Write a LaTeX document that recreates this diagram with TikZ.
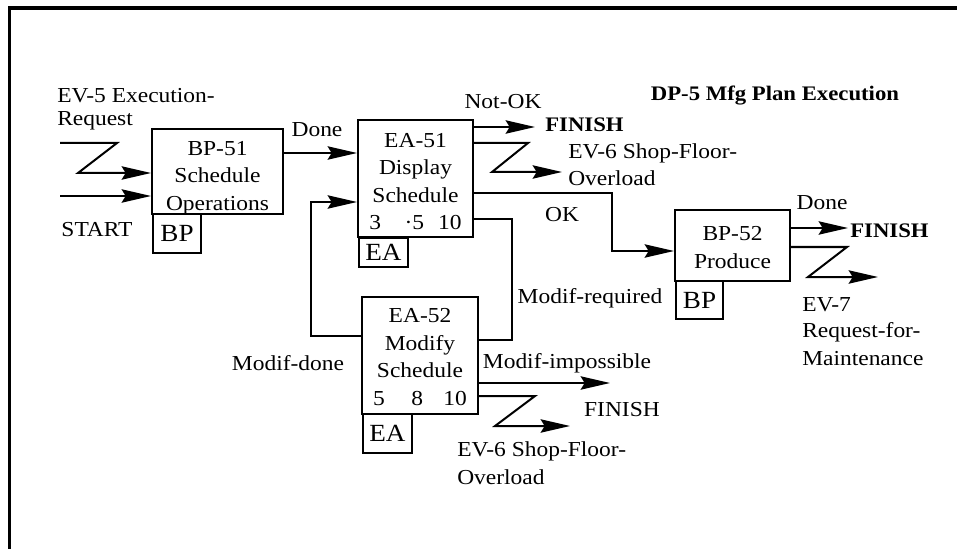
\documentclass[tikz,border=0pt]{standalone}
\usepackage{fontspec}
\setmainfont{Liberation Serif}[FakeStretch=1.1]
\usetikzlibrary{arrows.meta}
\tikzset{
  txt/.style={font=\fontsize{16}{20}\selectfont, inner sep=0pt},
  boldtxt/.style={font=\fontsize{15.5}{20}\selectfont\bfseries, inner sep=0pt},
  box/.style={draw, line width=1.5pt, inner sep=0pt},
  boxtext/.style={inner sep=0pt, align=center, font=\fontsize{16}{20.6}\selectfont},
  tagbox/.style={draw, line width=1.5pt, inner sep=0pt, anchor=north west, font=\fontsize{18.5}{20}\selectfont},
  conn/.style={line width=1.5pt},
  arr/.style={line width=1.5pt, -{Stealth[length=22pt,width=10pt,inset=3pt]}},
  frameline/.style={line width=2.4pt}
}
\begin{document}
\begin{tikzpicture}[x=0.75pt,y=-0.75pt]
\useasboundingbox (0,0) rectangle (957,549);
% frame
\draw[frameline] (9.5,549) -- (9.5,8) -- (957,8);

% boxes
\node[box, minimum width=98.25pt, minimum height=63.75pt,
  label={[boxtext, yshift=-5pt]center:BP-51\\Schedule\\Operations}] (bp51) at (217.5,171.5) {};
\node[tagbox, minimum width=36pt, minimum height=29.25pt] (bp51t) at (152,213) {BP};

\node[box, minimum width=86.25pt, minimum height=87.75pt,
  label={[boxtext, yshift=-2pt]center:EA-51\\Display\\Schedule\\3\hspace{1.1em}·5\hspace{0.65em}10}] (ea51) at (415.5,179) {};
\node[tagbox, minimum width=36.75pt, minimum height=21.75pt] (ea51t) at (358,237) {EA};

\node[box, minimum width=87pt, minimum height=87.75pt,
  label={[boxtext, yshift=-1.5pt]center:EA-52\\Modify\\Schedule\\5\hspace{1.25em}8\hspace{0.95em}10}] (ea52) at (420,355) {};
\node[tagbox, minimum width=36.75pt, minimum height=29.25pt] (ea52t) at (362,413) {EA};

\node[box, minimum width=86.25pt, minimum height=52.5pt,
  label={[boxtext, yshift=-1.5pt]center:BP-52\\Produce}] (bp52) at (732.5,245.5) {};
\node[tagbox, minimum width=35.25pt, minimum height=28.5pt] (bp52t) at (675,280) {BP};

% helper coordinates
\coordinate (st) at (60,196);
\coordinate (ev5) at (60,143);
\coordinate (z5) at (78,173);
\coordinate (yd1) at (0,153);
\coordinate (nf1) at (535,127);
\coordinate (y143) at (0,143);
\coordinate (ev6a) at (562,172);
\coordinate (y193) at (0,193);
\coordinate (y251) at (0,251);
\coordinate (y219) at (0,219);
\coordinate (y340) at (0,340);
\coordinate (y336) at (0,336);
\coordinate (y202) at (0,202);
\coordinate (y383) at (0,383);
\coordinate (nf2) at (610,383);
\coordinate (y396) at (0,396);
\coordinate (ev6b) at (570,426);
\coordinate (y228) at (0,228);
\coordinate (nf3) at (848,228);
\coordinate (y247) at (0,247);
\coordinate (ev7) at (878,277);

% connectors
\draw[arr] (st) -- (st -| bp51.west);
\draw[arr] (ev5) -- (117,143) -- (z5) -- (z5 -| bp51.west);
\draw[arr] (bp51.east |- yd1) -- (ea51.west |- yd1);
\draw[arr] (ea51.east |- nf1) -- (nf1);
\draw[arr] (ea51.east |- y143) -- (528,143) -- (492,172) -- (ev6a);
\draw[arr] (ea51.east |- y193) -- (612,193) -- (612,251) -- (bp52.west |- y251);
\draw[conn] (ea51.east |- y219) -- (512,219) -- (512,340) -- (ea52.east |- y340);
\draw[arr] (ea52.west |- y336) -- (311,336) -- (311,202) -- (ea51.west |- y202);
\draw[arr] (ea52.east |- y383) -- (nf2);
\draw[arr] (ea52.east |- y396) -- (535,396) -- (495,426) -- (ev6b);
\draw[arr] (bp52.east |- y228) -- (nf3);
\draw[arr] (bp52.east |- y247) -- (847,247) -- (808,277) -- (ev7);

% labels
\node[txt, anchor=west] (l1) at (57,96) {EV-5 Execution-};
\node[txt, anchor=west] (l2) at (57,121) {Request};
\node[txt] (l3) at (97,230) {START};
\node[txt] (l4) at (317,130) {Done};
\node[txt] (l5) at (503,102) {Not-OK};
\node[boldtxt, anchor=west] (l6) at (545,125) {FINISH};
\node[txt, anchor=west] (l7) at (568,153) {EV-6 Shop-Floor-};
\node[txt, anchor=west] (l8) at (568,178) {Overload};
\node[txt] (l9) at (562,215) {OK};
\node[txt] (l10) at (822,203) {Done};
\node[boldtxt, anchor=west] (l11) at (850,231) {FINISH};
\node[txt, anchor=west] (l12) at (802,305) {EV-7};
\node[txt, anchor=west] (l13) at (802,332) {Request-for-};
\node[txt, anchor=west] (l14) at (802,359) {Maintenance};
\node[txt] (l15) at (590,298) {Modif-required};
\node[txt] (l16) at (288,363) {Modif-done};
\node[txt] (l17) at (567,363) {Modif-impossible};
\node[txt] (l18) at (622,410) {FINISH};
\node[txt, anchor=west] (l19) at (457,451) {EV-6 Shop-Floor-};
\node[txt, anchor=west] (l20) at (457,477) {Overload};
\node[boldtxt] (title) at (775,96) {DP-5 Mfg Plan Execution};
\end{tikzpicture}
\end{document}
